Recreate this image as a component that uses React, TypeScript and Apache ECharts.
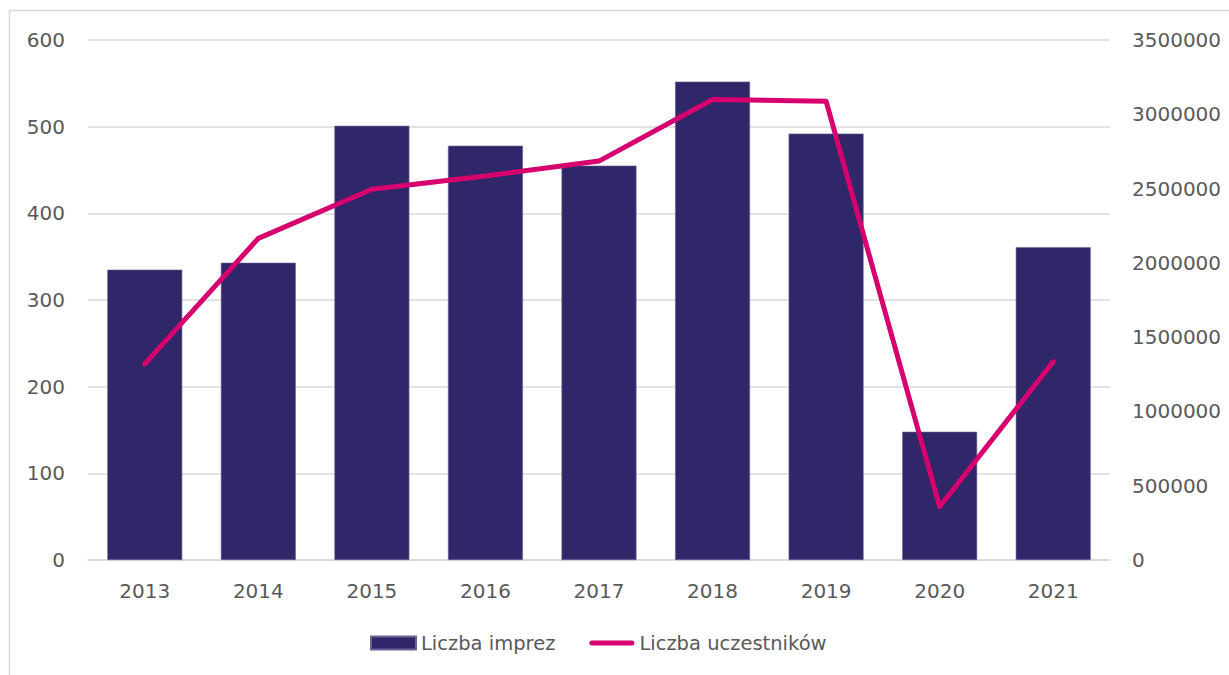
import React, { useEffect, useRef } from "react";
import * as echarts from "echarts";

const years = ["2013", "2014", "2015", "2016", "2017", "2018", "2019", "2020", "2021"];
const events = [335, 343, 501, 478, 455, 552, 492, 148, 361];
const participants = [1320000, 2165000, 2495000, 2585000, 2685000, 3100000, 3088000, 358000, 1335000];

const FONT = "'DejaVu Sans', sans-serif";
const TEXT = "#595959";
const GRID = "#d9d9d9";

export default function App() {
  const ref = useRef<HTMLDivElement>(null);
  useEffect(() => {
    document.body.style.margin = "0";
    const chart = echarts.init(ref.current!, undefined, { renderer: "svg" });
    chart.setOption({
      animation: false,
      backgroundColor: "#ffffff",
      textStyle: { fontFamily: FONT },
      graphic: [
        {
          type: "rect",
          shape: { x: 9.5, y: 10.5, width: 1240, height: 700 },
          style: { fill: "none", stroke: GRID, lineWidth: 1.5 },
          silent: true,
        },
      ],
      grid: { left: 88, right: 119, top: 40, bottom: 115, containLabel: false },
      legend: {
        bottom: 17,
        left: 365,
        itemWidth: 45,
        itemHeight: 13,
        itemGap: 34,
        textStyle: { color: TEXT, fontSize: 19.5, fontFamily: FONT },
        data: [
          { name: "Liczba imprez", icon: "rect" },
          {
            name: "Liczba uczestników",
            icon: "path://M2.5,0 H42.5 A2.5,2.5 0 0 1 42.5,5 H2.5 A2.5,2.5 0 0 1 2.5,0 Z",
          },
        ],
      },
      xAxis: {
        type: "category",
        data: years,
        axisLine: { lineStyle: { color: GRID, width: 1.5 } },
        axisTick: { show: false },
        axisLabel: { color: TEXT, fontSize: 20, margin: 21, fontFamily: FONT },
      },
      yAxis: [
        {
          type: "value",
          min: 0,
          max: 600,
          interval: 100,
          axisLine: { show: false },
          axisTick: { show: false },
          axisLabel: { color: TEXT, fontSize: 20, margin: 23, fontFamily: FONT },
          splitLine: { lineStyle: { color: GRID, width: 1.5 } },
        },
        {
          type: "value",
          min: 0,
          max: 3500000,
          interval: 500000,
          axisLine: { show: false },
          axisTick: { show: false },
          axisLabel: {
            color: TEXT,
            fontSize: 20,
            margin: 22,
            fontFamily: FONT,
            formatter: (v: number) => String(v),
          },
          splitLine: { show: false },
        },
      ],
      series: [
        {
          name: "Liczba imprez",
          type: "bar",
          data: events,
          barCategoryGap: "34%",
          itemStyle: { color: "#2f2768", borderColor: "#6a6398", borderWidth: 0.6 },
        },
        {
          name: "Liczba uczestników",
          type: "line",
          yAxisIndex: 1,
          data: participants,
          symbol: "none",
          itemStyle: { color: "#d6006e" },
          lineStyle: { color: "#d6006e", width: 5, cap: "round", join: "round" },
        },
      ],
    });
    return () => chart.dispose();
  }, []);
  return <div ref={ref} style={{ width: 1229, height: 675 }} />;
}
